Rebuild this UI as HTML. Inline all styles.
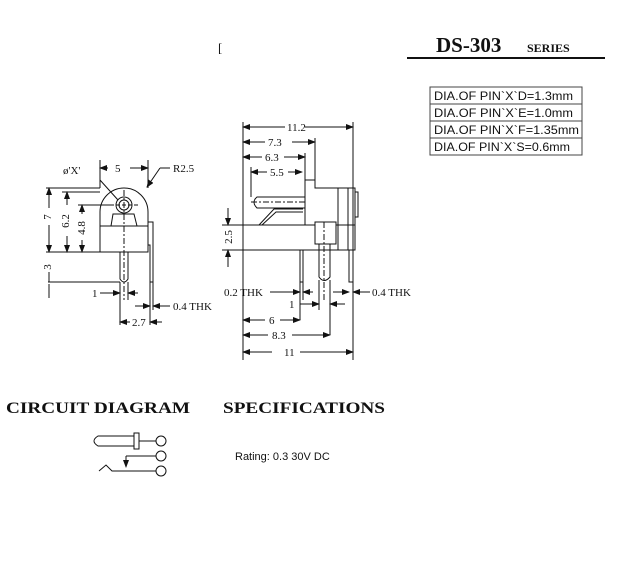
<!DOCTYPE html>
<html><head><style>
body{margin:0;background:#fff;}
svg{display:block;}
text{font-family:"Liberation Serif",serif;fill:#111;}
.d{font-size:11px;}
.s{font-family:"Liberation Sans",sans-serif;}
</style></head><body>
<svg width="617" height="567" viewBox="0 0 617 567" xmlns="http://www.w3.org/2000/svg">
<defs><marker id="a" markerWidth="8" markerHeight="6" refX="7" refY="3" orient="auto" markerUnits="userSpaceOnUse"><path d="M0,0L8,3L0,6z" fill="#111"/></marker></defs>
<text x="218" y="52" font-size="13">[</text>
<text x="436" y="52" font-size="21" font-weight="bold">DS-303</text>
<text x="527" y="52" font-size="12" font-weight="bold">SERIES</text>
<line x1="407" y1="58" x2="605" y2="58" stroke="#111" stroke-width="2"/>
<rect x="430" y="87" width="152" height="68" fill="none" stroke="#444"/>
<line x1="430" y1="104" x2="582" y2="104" stroke="#444"/>
<line x1="430" y1="121" x2="582" y2="121" stroke="#444"/>
<line x1="430" y1="138" x2="582" y2="138" stroke="#444"/>
<text class="s" x="434" y="100" font-size="12" textLength="139" lengthAdjust="spacingAndGlyphs">DIA.OF PIN`X`D=1.3mm</text>
<text class="s" x="434" y="117" font-size="12" textLength="139" lengthAdjust="spacingAndGlyphs">DIA.OF PIN`X`E=1.0mm</text>
<text class="s" x="434" y="134" font-size="12" textLength="145" lengthAdjust="spacingAndGlyphs">DIA.OF PIN`X`F=1.35mm</text>
<text class="s" x="434" y="151" font-size="12" textLength="136" lengthAdjust="spacingAndGlyphs">DIA.OF PIN`X`S=0.6mm</text>
<g stroke="#111" fill="none" stroke-width="1">
<path d="M100,252V212A24,24 0 0 1 148,212V252Z" fill="#fff"/>
<line x1="100" y1="226" x2="148" y2="226"/>
<path d="M111,226L113,214H134L137,226"/>
<circle cx="124" cy="205" r="8"/><circle cx="124" cy="205" r="5"/>
<line x1="124" y1="190" x2="124" y2="300" stroke-dasharray="6,2,2,2"/>
<line x1="110" y1="205" x2="138" y2="205" stroke-dasharray="4,2"/>
<path d="M120,252V279Q124,285 128,279V252"/>
<path d="M148,222H153V282H150V245H148"/>
<line x1="100" y1="160" x2="100" y2="188"/><line x1="148" y1="160" x2="148" y2="188"/>
<line x1="108" y1="168" x2="100" y2="168" marker-end="url(#a)"/><line x1="130" y1="168" x2="148" y2="168" marker-end="url(#a)"/>
<line x1="46" y1="188" x2="100" y2="188"/><line x1="46" y1="252" x2="100" y2="252"/>
<line x1="62" y1="192" x2="100" y2="192"/><line x1="78" y1="205" x2="112" y2="205"/>
<line x1="49" y1="208" x2="49" y2="188" marker-end="url(#a)"/><line x1="49" y1="225" x2="49" y2="252" marker-end="url(#a)"/>
<line x1="67" y1="205" x2="67" y2="192" marker-end="url(#a)"/><line x1="67" y1="236" x2="67" y2="252" marker-end="url(#a)"/>
<line x1="82" y1="214" x2="82" y2="205" marker-end="url(#a)"/><line x1="82" y1="240" x2="82" y2="252" marker-end="url(#a)"/>
<line x1="48" y1="282" x2="120" y2="282"/><line x1="49" y1="272" x2="49" y2="282"/><line x1="49" y1="298" x2="49" y2="284"/>
<line x1="120" y1="282" x2="120" y2="325"/><line x1="128" y1="282" x2="128" y2="300"/>
<line x1="150" y1="282" x2="150" y2="325"/><line x1="153" y1="282" x2="153" y2="310"/>
<line x1="100" y1="293" x2="120" y2="293" marker-end="url(#a)"/><line x1="138" y1="293" x2="128" y2="293" marker-end="url(#a)"/>
<line x1="135" y1="306" x2="150" y2="306" marker-end="url(#a)"/><line x1="170" y1="306" x2="153" y2="306" marker-end="url(#a)"/>
<line x1="130" y1="322" x2="120" y2="322" marker-end="url(#a)"/><line x1="162" y1="322" x2="150" y2="322" marker-end="url(#a)"/>
<line x1="100" y1="180" x2="118" y2="200"/>
<line x1="170" y1="168" x2="160" y2="168"/><line x1="160" y1="168" x2="147" y2="187" marker-end="url(#a)"/>
<rect x="243" y="225" width="112" height="25" fill="#fff"/>
<path d="M305,225V180H315V188H355V250"/>
<line x1="338" y1="188" x2="338" y2="250"/><line x1="348" y1="188" x2="348" y2="250"/>
<rect x="355" y="192" width="3" height="25"/>
<path d="M305,197H257Q251,202 257,208H305"/>
<line x1="251" y1="202" x2="305" y2="202" stroke-dasharray="6,2,2,2"/>
<path d="M259,225L274,209H303M262,225L276,212H303"/>
<rect x="315" y="222" width="21" height="22" fill="#fff"/>
<path d="M319,244V277Q324,284 330,277V244"/>
<line x1="324" y1="222" x2="324" y2="300" stroke-dasharray="6,2,2,2"/>
<rect x="300" y="250" width="3" height="32"/><rect x="349" y="250" width="4" height="32"/>
<line x1="243" y1="122" x2="243" y2="360"/><line x1="353" y1="122" x2="353" y2="360"/>
<line x1="315" y1="138" x2="315" y2="180"/><line x1="305" y1="153" x2="305" y2="180"/><line x1="251" y1="167" x2="251" y2="197"/>
<line x1="285" y1="127" x2="243" y2="127" marker-end="url(#a)"/><line x1="305" y1="127" x2="353" y2="127" marker-end="url(#a)"/>
<line x1="265" y1="142" x2="243" y2="142" marker-end="url(#a)"/><line x1="292" y1="142" x2="315" y2="142" marker-end="url(#a)"/>
<line x1="262" y1="157" x2="243" y2="157" marker-end="url(#a)"/><line x1="284" y1="157" x2="305" y2="157" marker-end="url(#a)"/>
<line x1="267" y1="172" x2="251" y2="172" marker-end="url(#a)"/><line x1="288" y1="172" x2="302" y2="172" marker-end="url(#a)"/>
<line x1="222" y1="225" x2="243" y2="225"/><line x1="222" y1="250" x2="243" y2="250"/>
<line x1="228" y1="208" x2="228" y2="225" marker-end="url(#a)"/><line x1="228" y1="267" x2="228" y2="250" marker-end="url(#a)"/>
<line x1="300" y1="282" x2="300" y2="320"/><line x1="303" y1="282" x2="303" y2="300"/>
<line x1="319" y1="280" x2="319" y2="310"/><line x1="330" y1="280" x2="330" y2="335"/>
<line x1="270" y1="292" x2="300" y2="292" marker-end="url(#a)"/><line x1="313" y1="292" x2="303" y2="292" marker-end="url(#a)"/>
<line x1="333" y1="292" x2="349" y2="292" marker-end="url(#a)"/><line x1="370" y1="292" x2="353" y2="292" marker-end="url(#a)"/>
<line x1="300" y1="304" x2="319" y2="304" marker-end="url(#a)"/><line x1="345" y1="304" x2="330" y2="304" marker-end="url(#a)"/>
<line x1="265" y1="320" x2="243" y2="320" marker-end="url(#a)"/><line x1="280" y1="320" x2="300" y2="320" marker-end="url(#a)"/>
<line x1="268" y1="335" x2="243" y2="335" marker-end="url(#a)"/><line x1="292" y1="335" x2="330" y2="335" marker-end="url(#a)"/>
<line x1="272" y1="352" x2="243" y2="352" marker-end="url(#a)"/><line x1="300" y1="352" x2="353" y2="352" marker-end="url(#a)"/>
<path d="M134,436H98Q90,441 98,446H134"/><rect x="134" y="433" width="5" height="16"/>
<line x1="139" y1="441" x2="156" y2="441"/><circle cx="161" cy="441" r="5"/>
<line x1="126" y1="456" x2="156" y2="456"/><circle cx="161" cy="456" r="5"/>
<line x1="126" y1="456" x2="126" y2="467" marker-end="url(#a)"/>
<path d="M99,471L106,465L112,471H156"/><circle cx="161" cy="471" r="5"/>
</g>
<g class="d">
<text x="115" y="172">5</text><text x="173" y="172">R2.5</text>
<text x="63" y="174">ø'X'</text>
<text x="0" y="0" text-anchor="middle" transform="translate(51 217) rotate(-90)">7</text>
<text x="0" y="0" text-anchor="middle" transform="translate(69 221) rotate(-90)">6.2</text>
<text x="0" y="0" text-anchor="middle" transform="translate(85 228) rotate(-90)">4.8</text>
<text x="0" y="0" text-anchor="middle" transform="translate(51 267) rotate(-90)">3</text>
<text x="92" y="297">1</text><text x="173" y="310">0.4 THK</text><text x="132" y="326">2.7</text>
<text x="287" y="131">11.2</text><text x="268" y="146">7.3</text><text x="265" y="161">6.3</text><text x="270" y="176">5.5</text>
<text x="0" y="0" text-anchor="middle" transform="translate(232 237) rotate(-90)">2.5</text>
<text x="224" y="296">0.2 THK</text><text x="372" y="296">0.4 THK</text>
<text x="289" y="308">1</text><text x="269" y="324">6</text><text x="272" y="339">8.3</text><text x="284" y="356">11</text>
</g>
<text x="6" y="413" font-size="16" font-weight="bold" textLength="184" lengthAdjust="spacingAndGlyphs">CIRCUIT  DIAGRAM</text>
<text x="223" y="413" font-size="16" font-weight="bold" textLength="162" lengthAdjust="spacingAndGlyphs">SPECIFICATIONS</text>
<text class="s" x="235" y="460" font-size="11">Rating: 0.3 30V DC</text>
</svg>
</body></html>
